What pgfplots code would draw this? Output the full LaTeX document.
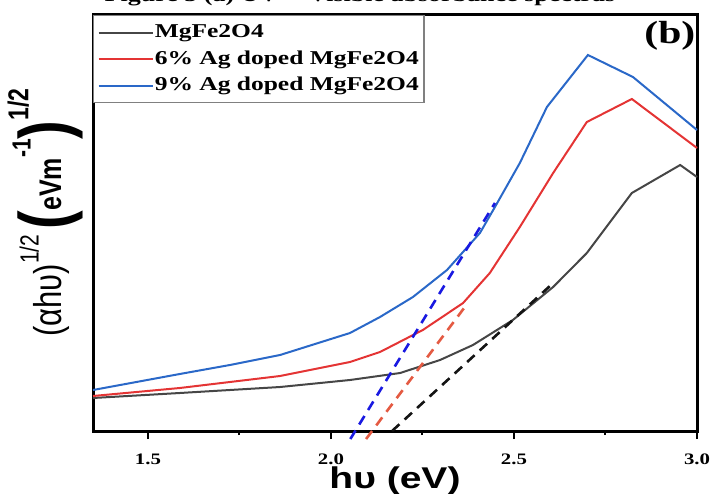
\documentclass[border=0pt]{standalone}
\usepackage{pgfplots}
\pgfplotsset{compat=1.18}
\usepackage{fontspec}
\setmainfont{Liberation Serif}
\newfontfamily\serifst[FakeStretch=1.3]{Liberation Serif}
\newfontfamily\sansst[FakeStretch=1.3]{Liberation Sans}
\newfontfamily\sansn{Liberation Sans}

\definecolor{cblack}{RGB}{70,70,70}
\definecolor{cred}{RGB}{228,52,52}
\definecolor{cblue}{RGB}{42,104,200}
\definecolor{dblue}{RGB}{25,25,225}
\definecolor{dred}{RGB}{228,90,66}
\definecolor{dblack}{RGB}{20,20,20}

\begin{document}
\begin{tikzpicture}
\begin{axis}[
    scale only axis,
    width=302pt, height=208pt,
    xmin=1.35, xmax=3.0,
    ymin=0, ymax=416,
    clip=false,
    xtick={1.5,2.0,2.5,3.0},
    xticklabels={1.5,2.0,2.5,3.0},
    minor xtick={1.75,2.25,2.75},
    ytick=\empty,
    xtick pos=left,
    tick align=outside,
    major tick length=4pt,
    minor tick length=2pt,
    tick style={black, line width=1pt},
    axis line style={line width=1.5pt},
    xticklabel style={font=\serifst\bfseries\fontsize{8}{8}\selectfont, yshift=-4pt},
    xlabel={\sansst\bfseries\fontsize{15}{15}\selectfont hυ (eV)},
    xlabel style={at={(axis description cs:0.5,0)}, anchor=north, yshift=-14.5pt},
    ylabel={\scalebox{1}[1.25]{\sansn\fontsize{15.5}{15.5}\selectfont (αhυ)\raisebox{1.1ex}{\fontsize{10.5}{10.5}\selectfont 1/2}\,\bfseries\raisebox{-0.35ex}{\fontsize{28}{28}\selectfont(}{\fontsize{12.5}{12.5}\selectfont eVm}\raisebox{1.5ex}{\fontsize{10.5}{10.5}\selectfont -1}\raisebox{-0.35ex}{\fontsize{28}{28}\selectfont)}\raisebox{1.6ex}{\fontsize{11.5}{11.5}\selectfont 1/2}}},
    ylabel style={at={(axis description cs:-0.079,0.525)}, anchor=center},
    legend style={at={(0,1)}, anchor=north west, draw=gray, line width=0.6pt,
        fill=white, font=\serifst\bfseries\fontsize{9.8}{9.8}\selectfont,
        inner xsep=2pt, inner ysep=3.5pt, row sep=3pt,
        nodes={inner sep=0.6pt, text height=7pt, text depth=2pt}},
    legend cell align=left,
    legend image code/.code={\draw[#1, line width=1pt] (0pt,0pt) -- (27pt,0pt);},
]
\addplot[cblack, line width=1pt] coordinates {
(1.35,33)(1.587,38)(1.861,44)(2.052,51)(2.189,58)(2.298,71)(2.388,86)(2.497,111)
(2.607,144)(2.699,178)(2.822,238)(2.954,266)(3.0,254)};
\addlegendentry{MgFe2O4}
\addplot[cred, line width=1pt] coordinates {
(1.35,35)(1.587,43)(1.861,55)(2.052,69)(2.134,79)(2.251,101)(2.361,128)(2.434,158)
(2.516,204)(2.607,258)(2.699,309)(2.822,332)(3.0,283)};
\addlegendentry{6\% Ag doped MgFe2O4}
\addplot[cblue, line width=1pt] coordinates {
(1.35,41)(1.587,57)(1.724,66)(1.861,76)(2.052,98)(2.134,114)(2.224,134)(2.317,161)
(2.407,198)(2.448,224)(2.516,268)(2.590,324)(2.702,376)(2.825,354)(3.0,301)};
\addlegendentry{9\% Ag doped MgFe2O4}
% tangent lines
\addplot[dblue, line width=1.3pt, dash pattern=on 5pt off 3.5pt, forget plot]
  coordinates {(2.053,-8)(2.448,228)};
\addplot[dred, line width=1.3pt, dash pattern=on 5pt off 3.5pt, forget plot]
  coordinates {(2.096,-8)(2.374,128)};
\addplot[dblack, line width=1.3pt, dash pattern=on 5pt off 3.5pt, forget plot]
  coordinates {(2.167,0)(2.607,148)};
\node[font=\serifst\bfseries\fontsize{16}{16}\selectfont] at (axis description cs:0.955,0.95) {(b)};
\end{axis}
\node[anchor=base, font=\serifst\bfseries\fontsize{10}{10}\selectfont] at (133.5pt,214.5pt)
  {Figure 5 (a) UV -- Visible absorbance spectras};
\pgfresetboundingbox
\path[use as bounding box] (-46.5pt,-31pt) rectangle (308.5pt,215.5pt);
\end{tikzpicture}
\end{document}
